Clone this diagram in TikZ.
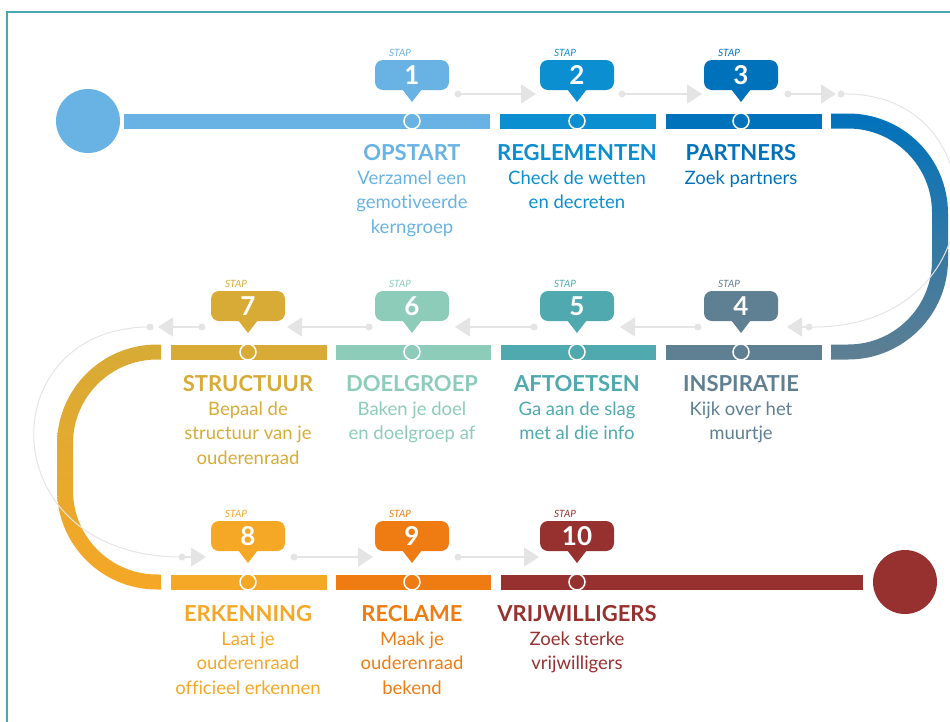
\documentclass[tikz,border=0pt]{standalone}
\usepackage{fontspec}
\setmainfont{Lato}[Ligatures={NoCommon}]
\usetikzlibrary{positioning, arrows.meta}
\definecolor{StapA}{HTML}{68B3E3}
\definecolor{StapB}{HTML}{0B8FD0}
\definecolor{StapC}{HTML}{0072BB}
\definecolor{StapD}{HTML}{5F7F92}
\definecolor{StapE}{HTML}{4FA9AF}
\definecolor{StapF}{HTML}{8DCCB8}
\definecolor{StapG}{HTML}{D7AB36}
\definecolor{StapH}{HTML}{F5A726}
\definecolor{StapI}{HTML}{EE7C13}
\definecolor{StapJ}{HTML}{97312F}
\definecolor{GhostGray}{HTML}{E4E4E4}
\definecolor{FrameTeal}{HTML}{4AA9AE}

\begin{document}
\begin{tikzpicture}[x=1pt, y=-1pt,
    steptitle/.style={font=\bfseries\fontsize{22}{26}\selectfont, anchor=base, inner sep=0pt},
    stepdesc/.style={font=\fontsize{18.5}{24.5}\selectfont, align=center, inner sep=0pt},
    stepnum/.style={font=\bfseries\fontsize{26}{26}\selectfont, text=white, inner sep=0pt},
    staplabel/.style={font=\itshape\fontsize{10}{10}\selectfont, inner sep=0pt},
    ghost/.style={draw=GhostGray, line width=1.6pt, -{Triangle[width=19pt,length=15pt,fill=GhostGray]}},
    ghostloop/.style={draw=GhostGray, line width=1pt}]
    \useasboundingbox (0,0) rectangle (950,721);

    % Frame
    \draw[FrameTeal, line width=2pt] (7,730) -- (7,12) -- (960,12);

    % Bends between the rows (gradient)
    \begin{scope}
        \clip (831,100) rectangle (960,370);
        \shade[top color=StapC, bottom color=StapD, even odd rule]
            [rounded corners=100pt] (700,113.5) rectangle (948,359.5)
            [rounded corners=84pt] (700,128.5) rectangle (932,344.5);
    \end{scope}
    \begin{scope}
        \clip (40,330) rectangle (161,600);
        \shade[top color=StapG, bottom color=StapH, even odd rule]
            [rounded corners=100pt] (57,344.5) rectangle (300,589.5)
            [rounded corners=84pt] (73,359.5) rectangle (300,574.5);
    \end{scope}

    % Start and end
    \fill[StapA] (88,121) circle (32pt);
    \fill[StapJ] (905,582) circle (32pt);

    % Bar segments
    \foreach \a/\b/\y/\c in {124/490/121/StapA, 500/656/121/StapB, 666/822/121/StapC,
                             666/822/352/StapD, 501/656/352/StapE, 336/491/352/StapF, 171/327/352/StapG,
                             171/327/582/StapH, 336/491/582/StapI, 501/863/582/StapJ} {
        \fill[\c] (\a,\y-7.5) rectangle (\b,\y+7.5);
    }

    % Ghost arrows
    \foreach \i/\s/\e/\y in {1/458/536/94, 2/622/702/94, 3/788/836/94,
                             4/809/787/327, 5/698/620/327, 6/534/455/327, 7/369/287/327, 8/202/158/327,
                             9/182/206/557, 10/294/373/557, 11/458/539/557} {
        \coordinate (gs\i) at (\s,\y);
        \coordinate (ge\i) at (\e,\y);
        \fill[GhostGray] (gs\i) circle (3.5pt);
        \draw[ghost] (gs\i) -- (ge\i);
    }
    \coordinate (lr) at (841,94);
    \coordinate (ll) at (150,327);
    \fill[GhostGray] (lr) circle (3.5pt);
    \fill[GhostGray] (ll) circle (3.5pt);
    \draw[ghostloop] (lr) .. controls (1000,90) and (1000,330) .. (gs4);
    \draw[ghostloop] (ll) .. controls (-10,327) and (-10,557) .. (gs9);

    % Steps
    \foreach \n/\x/\y/\c/\t/\d in {1/412/121/StapA/OPSTART/{Verzamel een\\gemotiveerde\\kerngroep},
            2/577/121/StapB/REGLEMENTEN/{Check de wetten\\en decreten},
            3/741/121/StapC/PARTNERS/{Zoek partners},
            4/741/352/StapD/INSPIRATIE/{Kijk over het\\muurtje},
            5/577/352/StapE/AFTOETSEN/{Ga aan de slag\\met al die info},
            6/412/352/StapF/DOELGROEP/{Baken je doel\\en doelgroep af},
            7/248/352/StapG/STRUCTUUR/{Bepaal de\\structuur van je\\ouderenraad},
            8/248/582/StapH/ERKENNING/{Laat je\\ouderenraad\\officieel erkennen},
            9/412/582/StapI/RECLAME/{Maak je\\ouderenraad\\bekend},
            10/577/582/StapJ/VRIJWILLIGERS/{Zoek sterke\\vrijwilligers}} {
        % pin
        \fill[\c, rounded corners=8pt] (\x-37,\y-61) rectangle (\x+37,\y-31);
        \fill[\c] (\x-10,\y-32) -- (\x,\y-19) -- (\x+10,\y-32) -- cycle;
        \node[stepnum] (num\n) at (\x,\y-46) {\n};
        \node[staplabel, text=\c] (stap\n) at (\x-12,\y-68) {STAP};
        % marker on the bar
        \filldraw[fill=\c, draw=white, line width=1.5pt] (\x,\y) circle (8pt);
        % texts
        \node[steptitle, text=\c] (t\n) at (\x,\y+39) {\t};
        \node[stepdesc, text=\c, below=10pt of t\n] (d\n) {\d};
    }
\end{tikzpicture}
\end{document}
